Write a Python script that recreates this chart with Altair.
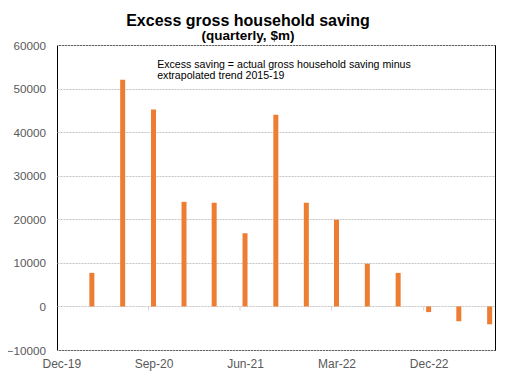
import altair as alt
import pandas as pd

# ---- data ----
quarters = ["2020-03-01", "2020-06-01", "2020-09-01", "2020-12-01", "2021-03-01",
            "2021-06-01", "2021-09-01", "2021-12-01", "2022-03-01", "2022-06-01",
            "2022-09-01", "2022-12-01", "2023-03-01", "2023-06-01"]
saving = [7700, 52000, 45200, 24000, 23800, 16800, 44000, 23800, 19900, 9800,
          7700, -1300, -3400, -4100]
label_dates = ["2019-12-01", "2020-09-01", "2021-06-01", "2022-03-01", "2022-12-01"]
y_values = [-10000, 0, 10000, 20000, 30000, 40000, 50000, 60000]
note_lines = ["Excess saving = actual gross household saving minus",
              "extrapolated trend 2015-19"]
note_date = "2020-09-12"
note_value = 54650
title_text = "Excess gross household saving"
subtitle_text = "(quarterly, $m)"

FONT = "Liberation Sans"
GREY = "#595959"


def dt(s):
    y, m, d = (int(p) for p in s.split("-"))
    return alt.DateTime(year=y, month=m, date=d, utc=True)


df = pd.DataFrame({"date": quarters, "value": saving})
ticks_df = pd.DataFrame({"date": label_dates[1:], "value": [0] * (len(label_dates) - 1)})
note_df = pd.DataFrame({"date": [note_date], "value": [note_value], "text": [note_lines]})

x_scale = alt.Scale(type="utc", domain=[dt("2019-11-18"), dt("2023-06-17")], padding=0)
y_scale = alt.Scale(domain=[-10000, 60000], nice=False)

x_enc = alt.X("date:T", scale=x_scale, title=None,
              axis=alt.Axis(values=[dt(s) for s in label_dates], format="%b-%y",
                            labelColor=GREY, labelFontSize=12, labelFont=FONT,
                            ticks=False, domain=False, grid=False, labelPadding=8))
y_enc = alt.Y("value:Q", scale=y_scale, title=None,
              axis=alt.Axis(values=y_values, format="d", labelColor=GREY, labelFontSize=11.7,
                            labelFont=FONT, ticks=False, tickSize=0, domain=False,
                            grid=True, gridColor="#c4c4c4", gridDash=[2, 1],
                            labelPadding=11.5))

bars = alt.Chart(df).mark_bar(color="#ED7D31", size=5).encode(x=x_enc, y=y_enc)

zero_ticks = alt.Chart(ticks_df).mark_tick(
    color="#c4c4c4", orient="vertical", size=4, thickness=1, xOffset=-5, yOffset=2
).encode(x=alt.X("date:T", scale=x_scale), y=alt.Y("value:Q", scale=y_scale))

note = alt.Chart(note_df).mark_text(
    align="left", baseline="alphabetic", font=FONT, fontSize=10.6, lineHeight=11,
    color="black"
).encode(x=alt.X("date:T", scale=x_scale), y=alt.Y("value:Q", scale=y_scale),
         text="text")

chart = alt.layer(bars, zero_ticks, note).properties(
    width=438, height=305,
    autosize=alt.AutoSizeParams(type="none"),
    padding={"left": 49, "top": 37, "right": 8, "bottom": 22},
    title=alt.TitleParams(
        text=title_text, subtitle=subtitle_text, anchor="middle", dx=-28,
        font=FONT, fontSize=16, fontWeight="bold", color="black",
        subtitleFont=FONT, subtitleFontSize=13.5, subtitleFontWeight="bold",
        subtitleColor="black", subtitlePadding=0, offset=-2),
).configure_view(stroke="black", strokeWidth=1)

chart.save("out.html", embed_options={"renderer": "svg", "actions": False})
